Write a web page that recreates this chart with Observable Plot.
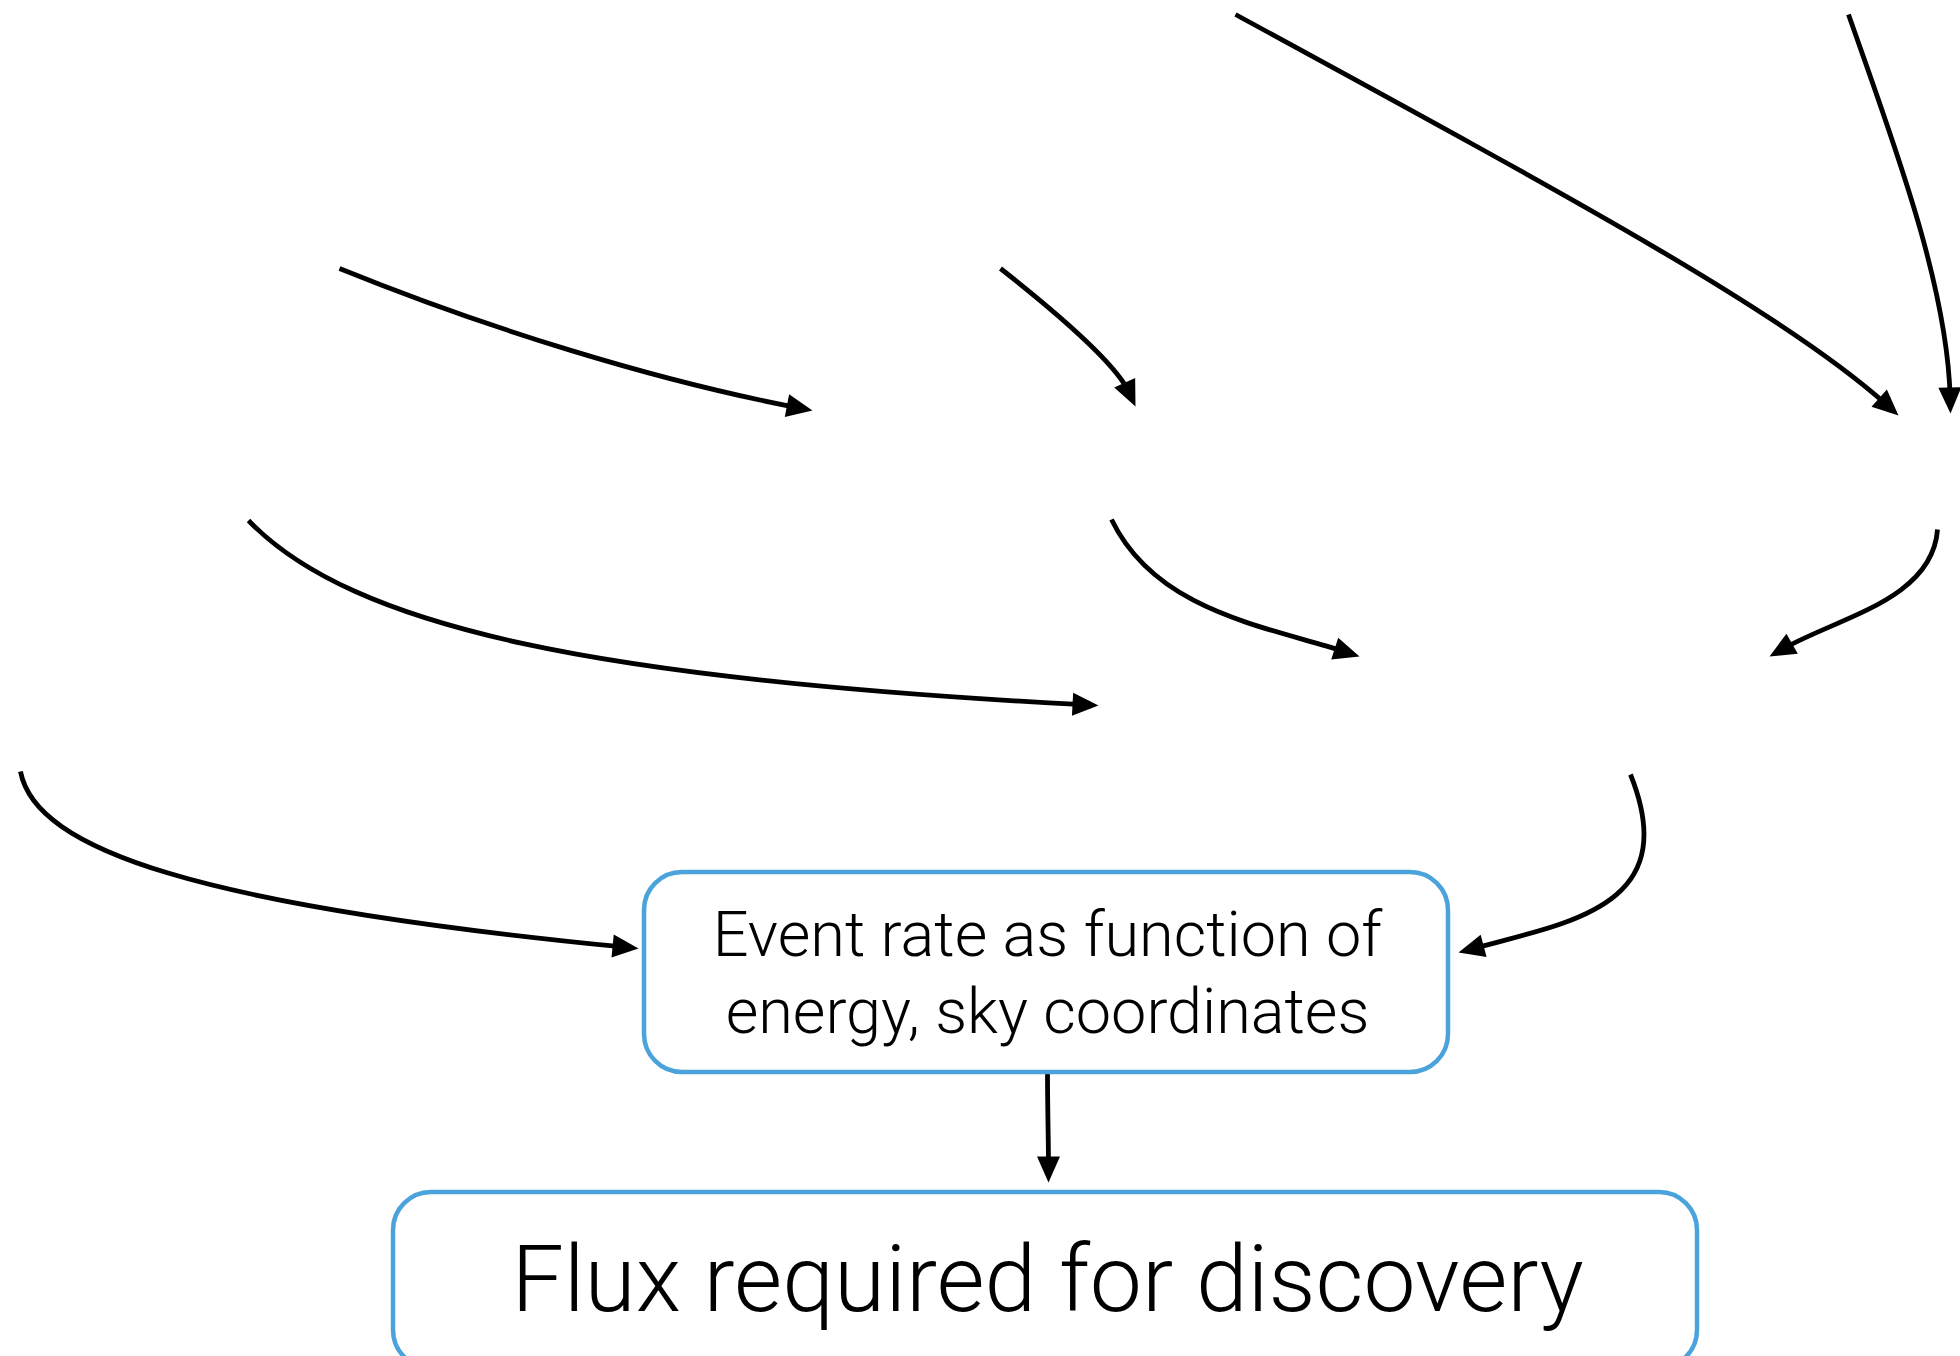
<!DOCTYPE html>
<html>
<head>
<meta charset="utf-8">
<script src="https://cdn.jsdelivr.net/npm/d3@7"></script>
<script src="https://cdn.jsdelivr.net/npm/@observablehq/plot@0.6"></script>
<style>
  html, body { margin: 0; padding: 0; background: #ffffff; overflow: hidden; }
  #chart svg { display: block; }
</style>
</head>
<body>
<div id="chart"></div>
<script>
// ---- Data (pixel space of the 1960x1356 canvas) ----
// Each arrow: start point, two Bezier control points, arrow tip.
const arrowIds   = [1, 2, 3, 4, 5, 6, 7, 8, 9, 10];
const startX     = [1235, 1848,  339, 1000,  248, 1111, 1937,   20, 1630, 1047];
const startY     = [  14,   14,  268,  268,  520,  519,  529,  771,  774, 1072];
const ctrl1X     = [1586, 1891,  487, 1047,  352, 1155, 1932,   35, 1682, 1047];
const ctrl1Y     = [ 205,  137,  328,  305,  628,  610,  599,  850,  904, 1110];
const ctrl2X     = [1787, 1947,  655, 1114,  599, 1262, 1838,  200, 1574, 1048];
const ctrl2Y     = [ 315,  283,  380,  360,  679,  625,  617,  905,  921, 1140];
const tipX       = [1898, 1950,  812, 1135, 1098, 1359, 1769,  638, 1458, 1048];
const tipY       = [ 415,  413,  410,  406,  705,  656,  656,  948,  952, 1182];

// Boxes
const boxNames = ["event", "flux"];
const boxLeft   = [644, 393];
const boxRight  = [1448, 1697];
const boxTop    = [872, 1192];
const boxBottom = [1072, 1368];

// Labels
const labelTexts = ["Event rate as function of\nenergy, sky coordinates", "Flux required for discovery"];
const labelX = [1047, 1047];
const labelBaselineY = [1032, 1310];

// ---- Build tables for the library ----
const pathRows = arrowIds.flatMap((id, i) => [
  {id, x: startX[i], y: startY[i]},
  {id, x: ctrl1X[i], y: ctrl1Y[i]},
  {id, x: ctrl2X[i], y: ctrl2Y[i]},
  {id, x: tipX[i],   y: tipY[i]}
]);
const headRows = arrowIds.map((id, i) => ({
  id, x: tipX[i], y: tipY[i],
  angle: Math.atan2(tipY[i] - ctrl2Y[i], tipX[i] - ctrl2X[i]) * 180 / Math.PI
}));
const boxRows = boxNames.map((name, i) => ({name, x1: boxLeft[i], x2: boxRight[i], y1: boxTop[i], y2: boxBottom[i]}));

const HEAD_LEN = 26, HEAD_WID = 23;

// Cubic Bezier curve: interprets the 4 points of each series as P0, C1, C2, P3,
// stopping the stroke a little before the tip so the filled head stays sharp.
function bezierCurve(context) {
  let pts = [];
  return {
    areaStart() {}, areaEnd() {},
    lineStart() { pts = []; },
    point(x, y) { pts.push([+x, +y]); },
    lineEnd() {
      if (pts.length < 4) {
        pts.forEach((p, k) => k ? context.lineTo(p[0], p[1]) : context.moveTo(p[0], p[1]));
        return;
      }
      const [p0, c1, c2, p3] = pts;
      const dx = p3[0] - c2[0], dy = p3[1] - c2[1];
      const d = Math.hypot(dx, dy) || 1;
      const ex = p3[0] - dx / d * (HEAD_LEN * 0.6), ey = p3[1] - dy / d * (HEAD_LEN * 0.6);
      context.moveTo(p0[0], p0[1]);
      context.bezierCurveTo(c1[0], c1[1], c2[0], c2[1], ex, ey);
    }
  };
}

// Filled arrowhead symbol, tip at origin, pointing along +x.
const arrowHead = {
  draw(context) {
    context.moveTo(0, 0);
    context.lineTo(-HEAD_LEN, -HEAD_WID / 2);
    context.lineTo(-HEAD_LEN, HEAD_WID / 2);
    context.closePath();
  }
};

const chart = Plot.plot({
  width: 1960,
  height: 1356,
  margin: 0,
  style: {background: "#ffffff", overflow: "hidden"},
  x: {domain: [0, 1960], range: [0, 1960], axis: null},
  y: {domain: [0, 1356], range: [0, 1356], axis: null},
  marks: [
    Plot.line(pathRows, {
      x: "x", y: "y", z: "id",
      curve: bezierCurve,
      stroke: "#000000", strokeWidth: 4.8, fill: "none",
      strokeLinecap: "butt"
    }),
    Plot.dot(headRows, {
      x: "x", y: "y", rotate: "angle",
      symbol: arrowHead, r: 10,
      fill: "#000000", stroke: "none"
    }),
    Plot.rect(boxRows, {
      x1: "x1", x2: "x2", y1: "y1", y2: "y2",
      rx: 38, fill: "#ffffff", stroke: "#4aa3db", strokeWidth: 4.5
    }),
    Plot.text([0], {
      x: () => labelX[0], y: () => labelBaselineY[0], text: () => labelTexts[0],
      fontSize: 63, fontFamily: "Roboto", fontWeight: 300,
      lineHeight: 1.22, textAnchor: "middle", lineAnchor: "bottom", fill: "#000000"
    }),
    Plot.text([1], {
      x: () => labelX[1], y: () => labelBaselineY[1], text: () => labelTexts[1],
      fontSize: 93, fontFamily: "Roboto", fontWeight: 300,
      textAnchor: "middle", lineAnchor: "bottom", fill: "#000000"
    })
  ]
});
document.getElementById("chart").appendChild(chart);
</script>
</body>
</html>
